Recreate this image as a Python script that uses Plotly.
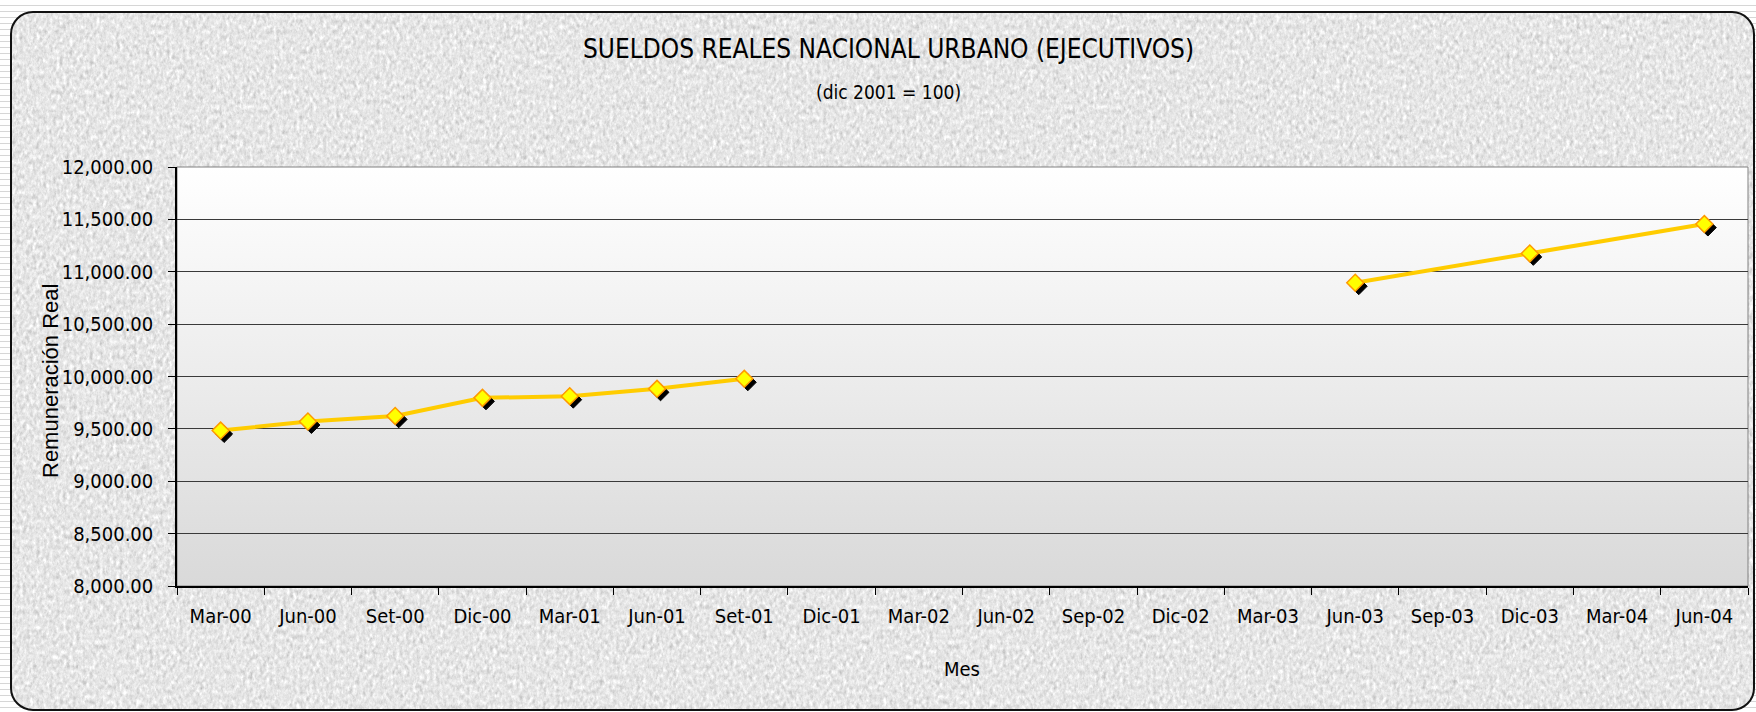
import base64
import plotly.graph_objects as go

# ---------------- data ----------------
months = ["Mar-00", "Jun-00", "Set-00", "Dic-00", "Mar-01", "Jun-01", "Set-01",
          "Dic-01", "Mar-02", "Jun-02", "Sep-02", "Dic-02", "Mar-03", "Jun-03",
          "Sep-03", "Dic-03", "Mar-04", "Jun-04"]
values = [9484, 9570, 9624, 9796, 9812, 9882, 9978,
          None, None, None, None, None, None, 10895,
          None, 11175, None, 11455]
y_ticks = [8000, 8500, 9000, 9500, 10000, 10500, 11000, 11500, 12000]

title_text = "SUELDOS REALES NACIONAL URBANO (EJECUTIVOS)"
subtitle_text = "(dic 2001 = 100)"
x_title = "Mes"
y_title = "Remuneración Real"

# ---------------- layout geometry (pixels) ----------------
W, H = 1756, 712
L, R, T, B = 177, 8, 167, 126
PW, PH = W - L - R, H - T - B

def fx(px):
    return (px - L) / PW

def fy(py):
    return (H - B - py) / PH

NARROW = "Liberation Sans Narrow, Arial Narrow, DejaVu Sans Condensed, sans-serif"
SANS = "Liberation Sans, Arial, sans-serif"

# ---------------- background images (style only) ----------------
bg_svg = f'''<svg xmlns="http://www.w3.org/2000/svg" width="{W}" height="{H}" viewBox="0 0 {W} {H}">
<defs>
<pattern id="ln" width="8" height="6" patternUnits="userSpaceOnUse">
<rect width="8" height="6" fill="#ffffff"/><rect y="5" width="8" height="1" fill="#d6d6d6"/></pattern>
<filter id="tx" x="0" y="0" width="100%" height="100%" color-interpolation-filters="sRGB">
<feTurbulence type="fractalNoise" baseFrequency="0.3 0.2" numOctaves="5" seed="7"/>
<feColorMatrix type="matrix" values="0.18 0.18 0.18 0 0.63  0.18 0.18 0.18 0 0.63  0.18 0.18 0.18 0 0.63  0 0 0 0 1"/>
</filter>
<clipPath id="cp"><rect x="11" y="12" width="1743" height="698" rx="22" ry="22"/></clipPath>
</defs>
<rect width="{W}" height="{H}" fill="url(#ln)"/>
<g clip-path="url(#cp)"><rect x="0" y="0" width="{W}" height="{H}" filter="url(#tx)"/></g>
<rect x="11" y="12" width="1743" height="698" rx="22" ry="22" fill="none" stroke="#111" stroke-width="2"/>
</svg>'''

plot_svg = f'''<svg xmlns="http://www.w3.org/2000/svg" width="{PW}" height="{PH}" viewBox="0 0 {PW} {PH}" preserveAspectRatio="none">
<defs><linearGradient id="g" x1="0" y1="0" x2="0" y2="1">
<stop offset="0" stop-color="#ffffff"/><stop offset="1" stop-color="#d9d9d9"/></linearGradient></defs>
<rect width="{PW}" height="{PH}" fill="url(#g)"/>
</svg>'''

def uri(s):
    return "data:image/svg+xml;base64," + base64.b64encode(s.encode("utf-8")).decode("ascii")

# ---------------- figure ----------------
fig = go.Figure()

line_style = dict(color="#FFCC00", width=4)
# line segments (gap between Set-01 and Jun-03, interpolation after Jun-03)
fig.add_trace(go.Scatter(x=months[:7], y=values[:7], mode="lines", line=line_style,
                         hoverinfo="skip", showlegend=False, xaxis="x", yaxis="y"))
fig.add_trace(go.Scatter(x=months[13:], y=values[13:], mode="lines", line=line_style,
                         connectgaps=True, hoverinfo="skip", showlegend=False,
                         xaxis="x", yaxis="y"))
# marker shadow (drawn on slightly shifted overlay axes)
fig.add_trace(go.Scatter(x=months, y=values, mode="markers",
                         marker=dict(symbol="diamond", size=13, color="#000000",
                                     line=dict(width=1, color="#000000")),
                         hoverinfo="skip", showlegend=False, xaxis="x2", yaxis="y2"))
# markers
fig.add_trace(go.Scatter(x=months, y=values, mode="markers",
                         marker=dict(symbol="diamond", size=13, color="#FFFF00",
                                     line=dict(width=1.5, color="#FF9900")),
                         showlegend=False, xaxis="x3", yaxis="y3"))

shift_px = 3.5
dx = shift_px / (PW / len(months))                      # shift in category units
dy = shift_px * (y_ticks[-1] - y_ticks[0]) / PH         # shift in value units
xr = [-0.5, len(months) - 0.5]
yr = [y_ticks[0], y_ticks[-1]]

hidden_x = dict(type="category", categoryorder="array", categoryarray=months,
                visible=False, overlaying="x", fixedrange=True)
hidden_y = dict(visible=False, overlaying="y", fixedrange=True)

fig.update_layout(
    width=W, height=H,
    margin=dict(l=L, r=R, t=T, b=B, autoexpand=False),
    paper_bgcolor="#ffffff",
    plot_bgcolor="rgba(0,0,0,0)",
    xaxis=dict(type="category", categoryorder="array", categoryarray=months,
               range=xr, tickson="boundaries", ticks="outside", ticklen=7,
               tickcolor="#000", tickwidth=1, showline=True, linecolor="#000",
               linewidth=1.5, showgrid=False, fixedrange=True,
               tickfont=dict(family=NARROW, size=20, color="#000"),
               ticklabelstandoff=11),
    yaxis=dict(range=yr, tickvals=y_ticks, tickformat=",.2f", ticks="outside",
               ticklen=7, tickcolor="#000", tickwidth=1, showline=True,
               linecolor="#000", linewidth=1.5, showgrid=True,
               gridcolor="#3a3a3a", gridwidth=1, zeroline=False, fixedrange=True,
               tickfont=dict(family=NARROW, size=20, color="#000"),
               ticklabelstandoff=11),
    xaxis2=dict(hidden_x, range=[xr[0] - dx, xr[1] - dx]),
    yaxis2=dict(hidden_y, range=[yr[0] + dy, yr[1] + dy]),
    xaxis3=dict(hidden_x, range=xr),
    yaxis3=dict(hidden_y, range=yr),
    images=[
        dict(source=uri(bg_svg), xref="paper", yref="paper", x=fx(0), y=fy(0),
             sizex=W / PW, sizey=H / PH, sizing="stretch", xanchor="left",
             yanchor="top", layer="below"),
        dict(source=uri(plot_svg), xref="paper", yref="paper", x=0, y=1,
             sizex=1, sizey=1, sizing="stretch", xanchor="left", yanchor="top",
             layer="below"),
    ],
    shapes=[
        dict(type="rect", xref="paper", yref="paper", x0=0, y0=0, x1=1, y1=1,
             line=dict(color="#808080", width=1), fillcolor="rgba(0,0,0,0)",
             layer="below"),
    ],
    annotations=[
        dict(text=title_text, x=fx(888), y=fy(49), xref="paper", yref="paper",
             showarrow=False, xanchor="center", yanchor="middle",
             font=dict(family=NARROW, size=26, color="#000")),
        dict(text=subtitle_text, x=fx(888), y=fy(92), xref="paper", yref="paper",
             showarrow=False, xanchor="center", yanchor="middle",
             font=dict(family=NARROW, size=19, color="#000")),
        dict(text=x_title, x=fx(962), y=fy(669), xref="paper", yref="paper",
             showarrow=False, xanchor="center", yanchor="middle",
             font=dict(family=NARROW, size=20, color="#000")),
        dict(text=y_title, x=fx(50), y=fy(381), xref="paper", yref="paper",
             showarrow=False, xanchor="center", yanchor="middle", textangle=-90,
             font=dict(family=SANS, size=22, color="#000")),
    ],
)

fig.write_html(
    "out.html",
    config={"displayModeBar": False},
    post_script="document.body.style.margin='0';document.body.style.overflow='hidden';",
)
